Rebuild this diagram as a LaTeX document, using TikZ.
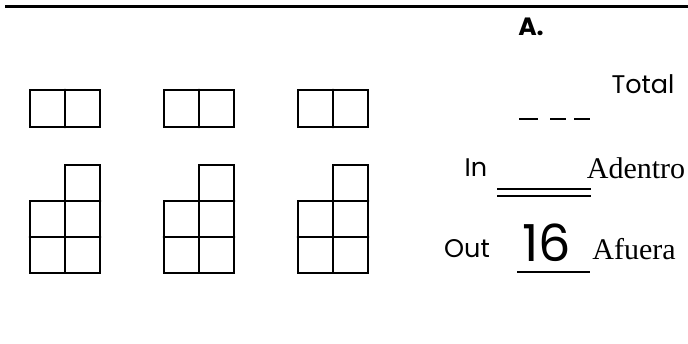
\documentclass[tikz,border=0pt]{standalone}
\usepackage{fontspec}
\usepackage{tikz}
\setmainfont{Liberation Serif}
\newfontfamily\gothic{Poppins}
\usetikzlibrary{arrows}

\begin{document}
\begin{tikzpicture}[x=1pt, y=-1pt, line width=2.8pt, line cap=round]
  \useasboundingbox (0,0) rectangle (688,344);

  % parameters
  \def\cw{35}     % cell width
  \def\ch{36}     % cell height
  \def\ga{30}     % left edge of 1st group
  \def\gb{164}    % left edge of 2nd group
  \def\gc{298}    % left edge of 3rd group
  \def\ty{90}     % top of the pair
  \def\by{165}    % top of the stack

  % rule at the top
  \draw[line width=3.6pt, line cap=butt] (5,6.5) -- (688,6.5);

  % 1st group
  \draw (\ga,\ty) rectangle (\ga+2*\cw,\ty+37);
  \draw (\ga+\cw,\ty) -- (\ga+\cw,\ty+37);
  \draw (\ga+\cw,\by) rectangle (\ga+2*\cw,\by+3*\ch);
  \draw (\ga,\by+\ch) rectangle (\ga+\cw,\by+3*\ch);
  \draw (\ga,\by+2*\ch) -- (\ga+2*\cw,\by+2*\ch);
  \draw (\ga+\cw,\by+\ch) -- (\ga+2*\cw,\by+\ch);

  % 2nd group
  \draw (\gb,\ty) rectangle (\gb+2*\cw,\ty+37);
  \draw (\gb+\cw,\ty) -- (\gb+\cw,\ty+37);
  \draw (\gb+\cw,\by) rectangle (\gb+2*\cw,\by+3*\ch);
  \draw (\gb,\by+\ch) rectangle (\gb+\cw,\by+3*\ch);
  \draw (\gb,\by+2*\ch) -- (\gb+2*\cw,\by+2*\ch);
  \draw (\gb+\cw,\by+\ch) -- (\gb+2*\cw,\by+\ch);

  % 3rd group
  \draw (\gc,\ty) rectangle (\gc+2*\cw,\ty+37);
  \draw (\gc+\cw,\ty) -- (\gc+\cw,\ty+37);
  \draw (\gc+\cw,\by) rectangle (\gc+2*\cw,\by+3*\ch);
  \draw (\gc,\by+\ch) rectangle (\gc+\cw,\by+3*\ch);
  \draw (\gc,\by+2*\ch) -- (\gc+2*\cw,\by+2*\ch);
  \draw (\gc+\cw,\by+\ch) -- (\gc+2*\cw,\by+\ch);

  % answer lines
  \draw[line width=2pt, line cap=butt, dash pattern=on 19pt off 12pt on 16pt off 8pt on 16pt] (519,119) -- (590,119);
  \draw[line width=2pt, line cap=butt] (497,189.5) -- (591,189.5);
  \draw[line width=2pt, line cap=butt] (497,196) -- (591,196);
  \draw[line width=2.4pt, line cap=butt] (517,272) -- (590,272);

  % labels
  \node (title) at (531,27) {\gothic\fontsize{25}{25}\selectfont\bfseries A.};
  \node (total) at (643,84) {\gothic\fontsize{25.5}{25}\selectfont Total};
  \node (in) at (476,168) {\gothic\fontsize{25.5}{25}\selectfont In};
  \node (adentro) at (636,168) {\fontsize{30}{30}\selectfont Adentro};
  \node (out) at (467,249) {\gothic\fontsize{25.5}{25}\selectfont Out};
  \node (count) at (547,243) {\gothic\fontsize{51}{51}\selectfont 16};
  \node (afuera) at (634,249) {\fontsize{30}{30}\selectfont Afuera};
\end{tikzpicture}
\end{document}
